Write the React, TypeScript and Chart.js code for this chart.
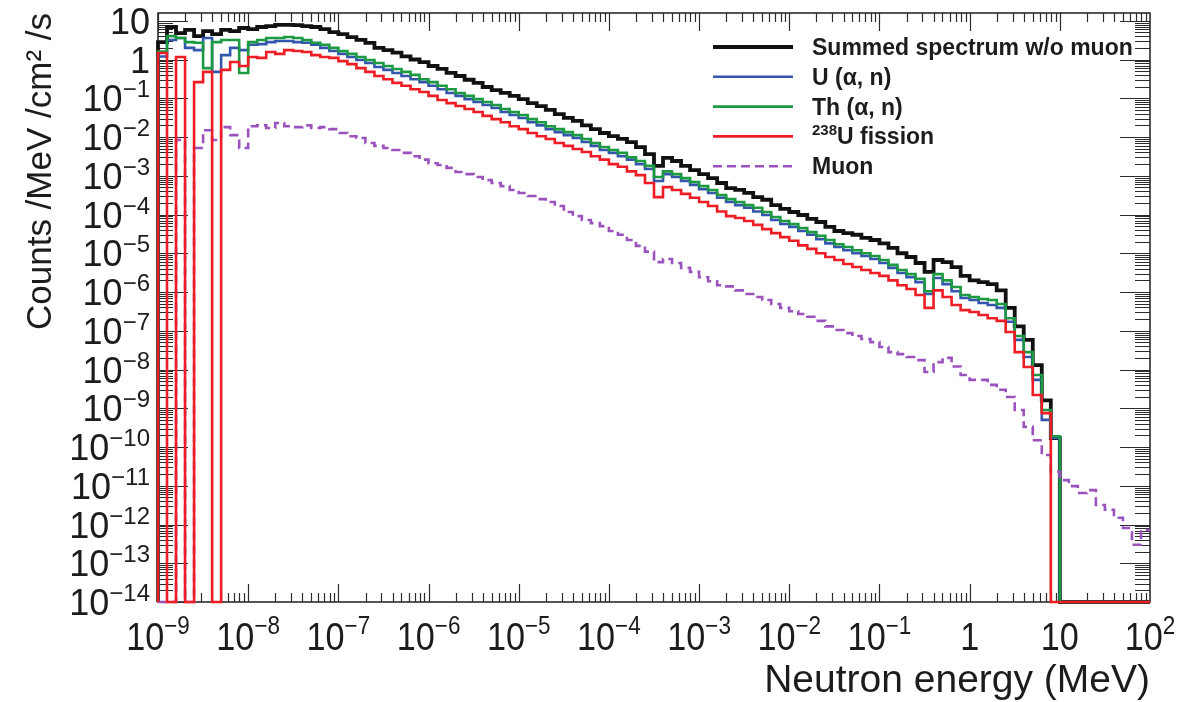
import React, { useEffect, useRef } from "react";
import { Chart, registerables } from "chart.js";

Chart.register(...registerables);

// ---------- data ----------
// histogram bin edges, as log10(E / MeV)
const binEdgeExp = [
  -9.0, -8.9, -8.8, -8.7, -8.6, -8.5, -8.4, -8.3, -8.2, -8.1,
  -8.0, -7.9, -7.8, -7.7, -7.6, -7.5, -7.4, -7.3, -7.2, -7.1,
  -7.0, -6.9, -6.8, -6.7, -6.6, -6.5, -6.4, -6.3, -6.2, -6.1,
  -6.0, -5.9, -5.8, -5.7, -5.6, -5.5, -5.4, -5.3, -5.2, -5.1,
  -5.0, -4.9, -4.8, -4.7, -4.6, -4.5, -4.4, -4.3, -4.2, -4.1,
  -4.0, -3.9, -3.8, -3.7, -3.6, -3.5, -3.4, -3.3, -3.2, -3.1,
  -3.0, -2.9, -2.8, -2.7, -2.6, -2.5, -2.4, -2.3, -2.2, -2.1,
  -2.0, -1.9, -1.8, -1.7, -1.6, -1.5, -1.4, -1.3, -1.2, -1.1,
  -1.0, -0.9, -0.8, -0.7, -0.6, -0.5, -0.4, -0.3, -0.2, -0.1,
  0.0, 0.1, 0.2, 0.3, 0.4, 0.5, 0.6, 0.7, 0.8, 0.9,
  1.0, 1.1, 1.2, 1.3, 1.4, 1.5, 1.6, 1.7, 1.8, 1.9,
  2.0,
];

const summedWoMuon = [
  2.8, 6.9, 4.8, 5.8, 4.0, 5.4, 4.5, 5.8, 5.4, 6.5,
  6.1, 6.9, 7.3, 7.8, 7.8, 7.7, 7.3, 6.9, 6.1, 5.1,
  4.5, 3.8, 3.2, 2.7, 2.0, 1.75, 1.5, 1.2, 1.0, 0.86,
  0.68, 0.57, 0.45, 0.375, 0.30, 0.25, 0.195, 0.163, 0.137, 0.115,
  0.095, 0.075, 0.063, 0.050, 0.039, 0.031, 0.026, 0.020, 0.016, 0.0127,
  0.0105, 0.0089, 0.0074, 0.0055, 0.0036, 0.0018, 0.0029, 0.0024, 0.0018, 0.0014,
  1.1e-3, 8.7e-4, 6.5e-4, 4.8e-4, 4.3e-4, 3.6e-4, 2.8e-4, 2.4e-4, 1.75e-4, 1.4e-4,
  1.16e-4, 9.7e-5, 7.7e-5, 6.4e-5, 4.8e-5, 3.75e-5, 3.3e-5, 3.0e-5, 2.5e-5, 2.2e-5,
  1.8e-5, 1.37e-5, 1.0e-5, 8.0e-6, 5.6e-6, 3.3e-6, 6.7e-6, 5.9e-6, 4.4e-6, 2.6e-6,
  2.0e-6, 1.8e-6, 1.6e-6, 1.1e-6, 3.9e-7, 1.3e-7, 5.8e-8, 1.3e-8, 1.6e-9, 1.7e-10,
  0, 0, 0, 0, 0, 0, 0, 0, 0, 0,
];

const uAlphaN = [
  1.2, 3.2, 3.6, 2.0, 1.75, 3.6, 0.48, 1.3, 2.0, 1.75,
  2.4, 2.5, 2.8, 3.0, 3.0, 2.8, 2.7, 2.4, 2.0, 1.65,
  1.4, 1.16, 0.97, 0.81, 0.64, 0.54, 0.45, 0.375, 0.31, 0.26,
  0.21, 0.17, 0.137, 0.115, 0.095, 0.080, 0.067, 0.056, 0.044, 0.037,
  0.031, 0.024, 0.020, 0.016, 0.0134, 0.0112, 0.0094, 0.0074, 0.0059, 0.0046,
  0.0039, 0.0032, 0.0026, 0.0020, 0.0015, 7.3e-4, 1.1e-3, 9.3e-4, 7.3e-4, 5.8e-4,
  4.5e-4, 3.6e-4, 2.7e-4, 2.1e-4, 1.75e-4, 1.5e-4, 1.2e-4, 9.7e-5, 7.2e-5, 5.7e-5,
  4.8e-5, 3.75e-5, 3.0e-5, 2.3e-5, 1.8e-5, 1.45e-5, 1.2e-5, 1.0e-5, 8.5e-6, 7.1e-6,
  5.6e-6, 4.2e-6, 3.1e-6, 2.4e-6, 1.8e-6, 8.9e-7, 2.3e-6, 1.6e-6, 1.05e-6, 7.0e-7,
  6.2e-7, 5.2e-7, 4.6e-7, 3.9e-7, 1.7e-7, 5.8e-8, 2.1e-8, 5.4e-9, 5.0e-10, 1.7e-10,
  0, 0, 0, 0, 0, 0, 0, 0, 0, 0,
];

const thAlphaN = [
  1.6, 4.0, 3.6, 2.8, 2.7, 0.60, 2.8, 3.2, 3.2, 0.45,
  2.8, 3.2, 3.6, 3.6, 3.8, 3.6, 3.2, 2.7, 2.4, 2.0,
  1.65, 1.4, 1.16, 0.97, 0.81, 0.68, 0.57, 0.48, 0.40, 0.31,
  0.26, 0.21, 0.17, 0.137, 0.115, 0.095, 0.080, 0.067, 0.053, 0.044,
  0.037, 0.029, 0.024, 0.019, 0.016, 0.0134, 0.0112, 0.0089, 0.0070, 0.0055,
  0.0046, 0.0039, 0.0030, 0.0024, 0.0018, 9.3e-4, 1.3e-3, 1.1e-3, 8.7e-4, 6.9e-4,
  5.4e-4, 4.3e-4, 3.2e-4, 2.5e-4, 2.1e-4, 1.75e-4, 1.5e-4, 1.16e-4, 8.6e-5, 6.8e-5,
  5.7e-5, 4.5e-5, 3.5e-5, 2.8e-5, 2.2e-5, 1.7e-5, 1.45e-5, 1.2e-5, 1.0e-5, 8.5e-6,
  6.7e-6, 5.0e-6, 3.7e-6, 2.9e-6, 2.2e-6, 1.05e-6, 2.9e-6, 2.0e-6, 1.35e-6, 8.4e-7,
  7.4e-7, 6.6e-7, 6.2e-7, 4.9e-7, 2.1e-7, 7.3e-8, 2.8e-8, 7.2e-9, 9.0e-10, 1.9e-10,
  0, 0, 0, 0, 0, 0, 0, 0, 0, 0,
];

const u238Fission = [
  1.47, 0, 1.16, 0, 0.26, 0.48, 0, 0.54, 0.86, 0.68,
  1.16, 1.1, 1.56, 1.4, 1.75, 1.65, 1.56, 1.3, 1.16, 1.1,
  0.91, 0.76, 0.60, 0.48, 0.375, 0.31, 0.25, 0.21, 0.17, 0.145,
  0.115, 0.090, 0.075, 0.063, 0.053, 0.044, 0.035, 0.029, 0.024, 0.019,
  0.016, 0.0127, 0.0105, 0.0089, 0.0070, 0.0059, 0.0049, 0.0041, 0.0032, 0.0026,
  0.0020, 0.0017, 0.0013, 0.00104, 6.5e-4, 2.8e-4, 5.1e-4, 4.3e-4, 3.4e-4, 2.7e-4,
  2.1e-4, 1.65e-4, 1.2e-4, 9.1e-5, 8.1e-5, 6.8e-5, 5.4e-5, 4.2e-5, 3.3e-5, 2.6e-5,
  2.1e-5, 1.6e-5, 1.3e-5, 1.0e-5, 8.0e-6, 6.7e-6, 5.3e-6, 4.4e-6, 3.7e-6, 3.1e-6,
  2.6e-6, 2.0e-6, 1.5e-6, 1.2e-6, 8.4e-7, 3.9e-7, 1.1e-6, 7.4e-7, 4.6e-7, 3.4e-7,
  3.05e-7, 2.55e-7, 2.1e-7, 1.8e-7, 9.3e-8, 2.8e-8, 1.16e-8, 2.2e-9, 7.5e-10, 0,
  0, 0, 0, 0, 0, 0, 0, 0, 0, 0,
];

const muon = [
  0, 0, 0.0084, 0, 0.0052, 0.015, 0.0084, 0.018, 0.0112, 0.0052,
  0.019, 0.020, 0.017, 0.023, 0.019, 0.018, 0.020, 0.017, 0.018, 0.016,
  0.0127, 0.0105, 0.0094, 0.0070, 0.0059, 0.0052, 0.0046, 0.0039, 0.0032, 0.0026,
  0.0021, 0.0019, 0.0016, 0.00125, 0.0011, 9.3e-4, 7.7e-4, 6.5e-4, 5.4e-4, 4.3e-4,
  3.6e-4, 3.0e-4, 2.5e-4, 2.1e-4, 1.65e-4, 1.16e-4, 9.1e-5, 7.2e-5, 6.0e-5, 5.0e-5,
  3.75e-5, 3.0e-5, 2.2e-5, 1.55e-5, 1.1e-5, 5.9e-6, 7.1e-6, 5.6e-6, 4.2e-6, 3.3e-6,
  2.4e-6, 1.9e-6, 1.5e-6, 1.4e-6, 1.1e-6, 8.9e-7, 7.4e-7, 6.2e-7, 4.9e-7, 3.9e-7,
  3.2e-7, 2.7e-7, 2.3e-7, 1.8e-7, 1.3e-7, 1.05e-7, 8.7e-8, 7.3e-8, 6.1e-8, 5.1e-8,
  3.8e-8, 2.8e-8, 2.5e-8, 2.1e-8, 1.75e-8, 8.6e-9, 1.55e-8, 2.0e-8, 1.2e-8, 7.2e-9,
  5.4e-9, 5.4e-9, 4.0e-9, 3.0e-9, 1.95e-9, 9.0e-10, 3.3e-10, 1.5e-10, 6.2e-11, 2.3e-11,
  1.4e-11, 9.8e-12, 6.5e-12, 7.7e-12, 3.2e-12, 2.4e-12, 1.5e-12, 8.1e-13, 3.0e-13, 7.2e-13,
];

const seriesLabels = [
  "Summed spectrum w/o muon",
  "U (\u03B1, n)",
  "Th (\u03B1, n)",
  "\u00B2\u00B3\u2078U fission",
  "Muon",
];

const xTickValues = [1e-9, 1e-8, 1e-7, 1e-6, 1e-5, 1e-4, 1e-3, 1e-2, 1e-1, 1, 10, 100];
const xTickLabels = [
  "10\u207B\u2079", "10\u207B\u2078", "10\u207B\u2077", "10\u207B\u2076", "10\u207B\u2075",
  "10\u207B\u2074", "10\u207B\u00B3", "10\u207B\u00B2", "10\u207B\u00B9", "1", "10", "10\u00B2",
];
const yTickValues = [
  1e-14, 1e-13, 1e-12, 1e-11, 1e-10, 1e-9, 1e-8, 1e-7, 1e-6, 1e-5, 1e-4, 1e-3, 1e-2, 1e-1, 1, 10,
];
const yTickLabels = [
  "10\u207B\u00B9\u2074", "10\u207B\u00B9\u00B3", "10\u207B\u00B9\u00B2", "10\u207B\u00B9\u00B9",
  "10\u207B\u00B9\u2070", "10\u207B\u2079", "10\u207B\u2078", "10\u207B\u2077", "10\u207B\u2076",
  "10\u207B\u2075", "10\u207B\u2074", "10\u207B\u00B3", "10\u207B\u00B2", "10\u207B\u00B9", "1", "10",
];

const X_MIN = 1e-9;
const X_MAX = 1e2;
const Y_MIN = 1e-14;
const Y_MAX = 15.85;

// ---------- styling ----------
const FONT = "'Liberation Sans', Arial, Helvetica, sans-serif";
const INK = "#1c1c1c";

const SUP: Record<string, string> = {
  "\u2070": "0", "\u00B9": "1", "\u00B2": "2", "\u00B3": "3", "\u2074": "4",
  "\u2075": "5", "\u2076": "6", "\u2077": "7", "\u2078": "8", "\u2079": "9", "\u207B": "\u2212",
};

type RichOpts = { size: number; supSize: number; raise: number; weight: string; align: "left" | "right" | "center"; sx: number };

// draws text whose superscript characters are rendered as raised, smaller glyphs
function drawRich(ctx: CanvasRenderingContext2D, text: string, x: number, y: number, o: RichOpts) {
  const segs: { t: string; sup: boolean; w: number }[] = [];
  for (const ch of Array.from(text)) {
    const sup = ch in SUP;
    const c = sup ? SUP[ch] : ch;
    const last = segs[segs.length - 1];
    if (last && last.sup === sup) last.t += c;
    else segs.push({ t: c, sup, w: 0 });
  }
  const fontFor = (sup: boolean) => `${o.weight} ${sup ? o.supSize : o.size}px ${FONT}`;
  let total = 0;
  for (const s of segs) {
    ctx.font = fontFor(s.sup);
    s.w = ctx.measureText(s.t).width;
    total += s.w;
  }
  ctx.save();
  ctx.translate(x, y);
  ctx.scale(o.sx, 1);
  let cx = o.align === "right" ? -total : o.align === "center" ? -total / 2 : 0;
  ctx.textAlign = "left";
  ctx.textBaseline = "alphabetic";
  for (const s of segs) {
    ctx.font = fontFor(s.sup);
    ctx.fillText(s.t, cx, s.sup ? -o.raise : 0);
    cx += s.w;
  }
  ctx.restore();
}

function toHistPoints(vals: number[]) {
  const pts: { x: number; y: number }[] = [];
  pts.push({ x: Math.pow(10, binEdgeExp[0]), y: Y_MIN });
  for (let i = 0; i < vals.length; i++) {
    pts.push({ x: Math.pow(10, binEdgeExp[i]), y: vals[i] > 0 ? vals[i] : Y_MIN });
  }
  const last = vals[vals.length - 1];
  pts.push({ x: Math.pow(10, binEdgeExp[vals.length]), y: last > 0 ? last : Y_MIN });
  return pts;
}

const axisDecor = {
  id: "axisDecor",
  beforeDatasetsDraw(chart: any) {
    const { ctx, chartArea: a } = chart;
    const xs = chart.scales.x;
    const ys = chart.scales.y;
    ctx.save();
    ctx.strokeStyle = "#2b2b2b";
    ctx.lineWidth = 1.2;
    ctx.beginPath();
    for (let e = -9; e < 2; e++) {
      for (let m = 1; m < 10; m++) {
        const px = Math.round(xs.getPixelForValue(m * Math.pow(10, e))) + 0.5;
        const len = m === 1 ? 18 : 9;
        ctx.moveTo(px, a.bottom);
        ctx.lineTo(px, a.bottom - len);
        ctx.moveTo(px, a.top);
        ctx.lineTo(px, a.top + len);
      }
    }
    for (let e = -14; e <= 1; e++) {
      for (let m = 1; m < 10; m++) {
        const v = m * Math.pow(10, e);
        if (v > Y_MAX) break;
        const py = Math.round(ys.getPixelForValue(v)) + 0.5;
        const len = m === 1 ? 30 : 15;
        ctx.moveTo(a.left, py);
        ctx.lineTo(a.left + len, py);
        ctx.moveTo(a.right, py);
        ctx.lineTo(a.right - len, py);
      }
    }
    ctx.stroke();
    ctx.lineWidth = 1.6;
    ctx.strokeRect(a.left, a.top, a.right - a.left, a.bottom - a.top);
    ctx.restore();
  },
  afterDraw(chart: any) {
    const { ctx, chartArea: a } = chart;
    const xs = chart.scales.x;
    const ys = chart.scales.y;
    ctx.save();
    ctx.fillStyle = INK;
    for (const t of xs.ticks) {
      const px = xs.getPixelForValue(t.value);
      drawRich(ctx, String(t.label), px, a.bottom + 48, {
        size: 38, supSize: 25, raise: 16, weight: "normal", align: "center", sx: 0.9,
      });
    }
    for (const t of ys.ticks) {
      const py = ys.getPixelForValue(t.value);
      drawRich(ctx, String(t.label), a.left - 8, py + 13, {
        size: 36, supSize: 24, raise: 14, weight: "normal", align: "right", sx: 1,
      });
    }
    ctx.restore();
  },
};

const rootLegend = {
  id: "rootLegend",
  afterDatasetsDraw(chart: any) {
    const { ctx } = chart;
    const sets = chart.data.datasets;
    ctx.save();
    for (let k = 0; k < sets.length; k++) {
      const ds = sets[k];
      const y = 47 + k * 29.8;
      ctx.strokeStyle = ds.borderColor;
      ctx.lineWidth = ds.borderWidth;
      ctx.setLineDash(ds.borderDash || []);
      ctx.beginPath();
      ctx.moveTo(713, y);
      ctx.lineTo(793, y);
      ctx.stroke();
      ctx.setLineDash([]);
      ctx.fillStyle = INK;
      drawRich(ctx, ds.label, 812, y + 8, {
        size: 23, supSize: 15, raise: 9, weight: "bold", align: "left", sx: 1,
      });
    }
    ctx.restore();
  },
};

function histDataset(label: string, vals: number[], color: string, width: number, order: number, dash?: number[]) {
  return {
    label,
    data: toHistPoints(vals),
    borderColor: color,
    backgroundColor: color,
    borderWidth: width,
    borderDash: dash || [],
    stepped: "before" as const,
    pointRadius: 0,
    fill: false,
    tension: 0,
    order,
    borderJoinStyle: "miter" as const,
    borderCapStyle: "butt" as const,
    clip: { left: 3, top: 0, right: 0, bottom: 3 },
  };
}

export default function App() {
  const ref = useRef<HTMLCanvasElement>(null);

  useEffect(() => {
    const canvas = ref.current;
    if (!canvas) return;
    const chart = new Chart(canvas, {
      type: "line",
      data: {
        datasets: [
          histDataset(seriesLabels[0], summedWoMuon, "#111111", 3.8, 4),
          histDataset(seriesLabels[1], uAlphaN, "#3556ad", 2.6, 3),
          histDataset(seriesLabels[2], thAlphaN, "#1c9a42", 2.6, 2),
          histDataset(seriesLabels[3], u238Fission, "#ee1d25", 2.6, 0),
          histDataset(seriesLabels[4], muon, "#9a52bd", 2.6, 1, [9, 5]),
        ] as any,
      },
      options: {
        responsive: false,
        animation: false,
        devicePixelRatio: 1,
        layout: { padding: { left: 0, top: 13, right: 52, bottom: 0 }, autoPadding: false },
        plugins: {
          legend: { display: false },
          tooltip: { enabled: false },
          title: { display: false },
        },
        scales: {
          x: {
            type: "logarithmic",
            position: "bottom",
            min: X_MIN,
            max: X_MAX,
            grid: { display: false, drawTicks: false },
            border: { display: false },
            afterBuildTicks: (s: any) => {
              s.ticks = xTickValues.map((v) => ({ value: v }));
            },
            afterFit: (s: any) => {
              s.height = 100;
              s.paddingLeft = 0;
              s.paddingRight = 0;
            },
            ticks: {
              display: false,
              autoSkip: false,
              maxRotation: 0,
              minRotation: 0,
              callback: (_v: any, i: number) => xTickLabels[i],
            },
            title: {
              display: true,
              text: "Neutron energy (MeV)",
              align: "end",
              color: INK,
              font: { family: FONT, size: 39, lineHeight: 1 },
              padding: { top: 0, bottom: 1 },
            },
          },
          y: {
            type: "logarithmic",
            position: "left",
            min: Y_MIN,
            max: Y_MAX,
            grid: { display: false, drawTicks: false },
            border: { display: false },
            afterBuildTicks: (s: any) => {
              s.ticks = yTickValues.map((v) => ({ value: v }));
            },
            afterFit: (s: any) => {
              s.width = 158;
              s.paddingTop = 0;
              s.paddingBottom = 0;
            },
            ticks: {
              display: false,
              autoSkip: false,
              callback: (_v: any, i: number) => yTickLabels[i],
            },
            title: {
              display: true,
              text: "Counts /MeV /cm\u00B2 /s",
              align: "end",
              color: INK,
              font: { family: FONT, size: 35, lineHeight: 1 },
              padding: { top: 24, bottom: 0 },
            },
          },
        },
      } as any,
      plugins: [axisDecor, rootLegend],
    });
    return () => chart.destroy();
  }, []);

  return (
    <div style={{ position: "fixed", left: 0, top: 0, width: 1202, height: 702, background: "#ffffff" }}>
      <canvas ref={ref} width={1202} height={702} style={{ display: "block" }} />
    </div>
  );
}
